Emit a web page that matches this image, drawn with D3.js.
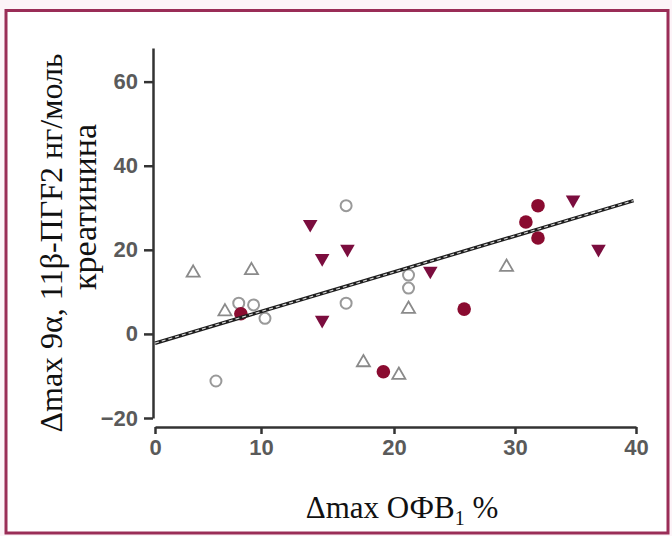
<!DOCTYPE html>
<html>
<head>
<meta charset="utf-8">
<script src="https://cdn.jsdelivr.net/npm/d3@7"></script>
<style>
  html, body { margin: 0; padding: 0; background: #fcf4f8; }
  svg { display: block; }
</style>
</head>
<body>
<script>
// Axis ticks
const xTicks = [0, 10, 20, 30, 40];
const yTicks = [-20, 0, 20, 40, 60];

// Four groups of patients: [Δmax ОФВ1 %, Δmax 9α,11β-ПГF2]
const openTriangles = [[3.6, 14.5], [9.1, 15.1], [6.6, 5.3], [21.2, 5.9], [17.7, -6.8], [20.4, -9.8], [29.3, 15.9]];
const openCircles   = [[16.4, 30.5], [7.9, 7.3], [9.3, 6.9], [10.3, 3.7], [16.4, 7.3], [21.2, 14.0], [21.2, 10.9], [5.75, -11.2]];
const filledCircles = [[8.1, 4.8], [19.2, -9.0], [25.8, 5.9], [30.9, 26.6], [31.9, 30.5], [31.9, 22.8]];
const filledDownTriangles = [[13.7, 26.1], [14.6, 18.0], [16.5, 20.2], [14.6, 3.3], [23.0, 15.0], [34.8, 31.9], [36.9, 20.2]];

// Regression line end points
const fitX = [0, 39.8];
const fitY = [-2.2, 31.7];

const W = 672, H = 536;
const svg = d3.select("body").append("svg").attr("width", W).attr("height", H);

// Framed panel
svg.append("rect")
  .attr("x", 6).attr("y", 10.5).attr("width", 662).attr("height", 522.5)
  .attr("fill", "#ffffff").attr("stroke", "#9a2d57").attr("stroke-width", 3);

// Scales (the printed x axis is not evenly spaced, so use a polylinear scale)
const x = d3.scaleLinear().domain(xTicks).range([155, 261, 394, 515, 636]);
const y = d3.scaleLinear().domain([-20, 68]).range([418, 48]);

const tickFont = "'Liberation Sans', Arial, sans-serif";

const yAxis = svg.append("g").attr("transform", "translate(153,0)")
  .call(d3.axisLeft(y).tickValues(yTicks).tickSize(9).tickSizeOuter(0).tickPadding(6));
const xAxis = svg.append("g").attr("transform", "translate(0,427)")
  .call(d3.axisBottom(x).tickValues(xTicks).tickSize(7).tickSizeOuter(0).tickPadding(5));

[yAxis, xAxis].forEach(g => {
  g.select(".domain").attr("stroke", "#333").attr("stroke-width", 2.5);
  g.selectAll(".tick line").attr("stroke", "#333").attr("stroke-width", 2.5);
  g.selectAll(".tick text")
    .attr("fill", "#5a5a5a")
    .style("font-family", tickFont)
    .style("font-size", "22px")
    .style("font-weight", "bold");
});

// Markers
const plot = svg.append("g");
const sym = (type, size) => d3.symbol().type(type).size(size)();

plot.selectAll("path.otri").data(openTriangles).join("path")
  .attr("class", "otri")
  .attr("d", sym(d3.symbolTriangle, 74))
  .attr("transform", d => `translate(${x(d[0])},${y(d[1])})`)
  .attr("fill", "none").attr("stroke", "#8a8a8a").attr("stroke-width", 1.8);

plot.selectAll("path.ocir").data(openCircles).join("path")
  .attr("class", "ocir")
  .attr("d", sym(d3.symbolCircle, 95))
  .attr("transform", d => `translate(${x(d[0])},${y(d[1])})`)
  .attr("fill", "none").attr("stroke", "#999").attr("stroke-width", 2);

plot.selectAll("path.fdtri").data(filledDownTriangles).join("path")
  .attr("class", "fdtri")
  .attr("d", sym(d3.symbolTriangle, 92))
  .attr("transform", d => `translate(${x(d[0])},${y(d[1])}) rotate(180)`)
  .attr("fill", "#7b0d3e");

plot.selectAll("path.fcir").data(filledCircles).join("path")
  .attr("class", "fcir")
  .attr("d", sym(d3.symbolCircle, 145))
  .attr("transform", d => `translate(${x(d[0])},${y(d[1])})`)
  .attr("fill", "#8a0b30");

// Regression line: dark stroke with a lighter dashed core
const fitPts = fitX.map((v, i) => [x(v), y(fitY[i])]);
const line = d3.line();
svg.append("path").attr("d", line(fitPts))
  .attr("stroke", "#1e1e1e").attr("stroke-width", 3.6).attr("fill", "none");
svg.append("path").attr("d", line(fitPts))
  .attr("stroke", "#d8d8d8").attr("stroke-width", 1.2).attr("stroke-dasharray", "4,3").attr("fill", "none");

// Axis titles
const titleFont = "'Liberation Serif', 'Times New Roman', serif";
const xt = svg.append("text")
  .attr("x", 402).attr("y", 518).attr("text-anchor", "middle")
  .style("font-family", titleFont).style("font-size", "31px").attr("fill", "#111");
xt.append("tspan").text("Δmax ОФВ");
xt.append("tspan").attr("dy", 7).style("font-size", "20px").text("1");
xt.append("tspan").attr("dy", -7).text(" %");

svg.append("text")
  .attr("transform", "translate(62,243) rotate(-90)")
  .attr("text-anchor", "middle")
  .style("font-family", titleFont).style("font-size", "32px").attr("fill", "#111")
  .text("Δmax 9α, 11β-ПГF2 нг/моль");

svg.append("text")
  .attr("transform", "translate(96,207) rotate(-90)")
  .attr("text-anchor", "middle")
  .style("font-family", titleFont).style("font-size", "34px").attr("fill", "#111")
  .text("креатинина");
</script>
</body>
</html>
